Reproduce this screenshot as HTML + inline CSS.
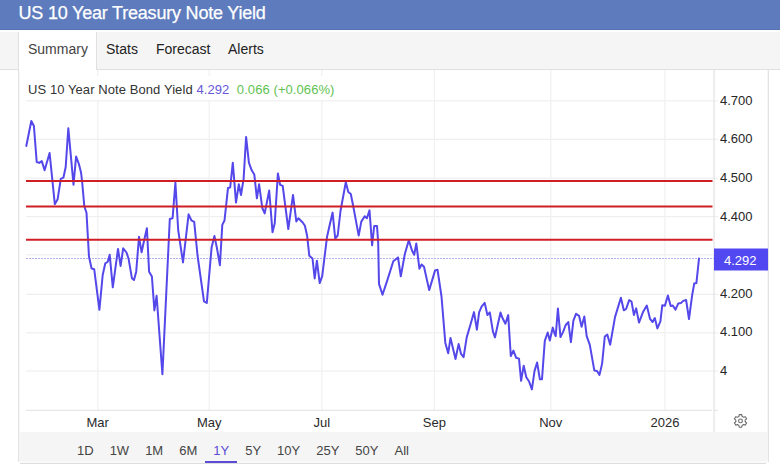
<!DOCTYPE html>
<html><head><meta charset="utf-8"><style>
*{box-sizing:border-box;margin:0;padding:0}
html,body{width:780px;height:464px;overflow:hidden;background:#fff;font-family:"Liberation Sans",sans-serif}
#hdr{position:absolute;left:0;top:0;width:780px;height:30px;background:#5d7bbd;color:#fff;font-size:18px;line-height:26px;padding-left:18.5px;letter-spacing:-0.2px;-webkit-text-stroke:0.25px #fff;box-shadow:inset 0 -1px 0 rgba(0,0,30,0.07)}
#tabs{position:absolute;left:0;top:32px;width:780px;height:38px;background:#f5f5f5;border-bottom:1px solid #e0e0e0}
#tabs .t{position:absolute;top:0;height:37px;font-size:14px;line-height:35px;color:#222}
#sum{position:absolute;left:18px;top:32px;width:79px;height:38px;background:#fff;border-left:1px solid #e0e0e0;border-right:1px solid #e0e0e0}
#panel{position:absolute;left:18px;top:70px;width:751px;height:392px;border:1px solid #e3e3e3;border-top:none;border-bottom:none;background:#fff;box-shadow:inset 1px 0 0 #f6f6f6,inset -1px 0 0 #f6f6f6}
#bline{position:absolute;left:20px;top:463px;width:746px;height:1px;background:#dedede}
#bl2{position:absolute;left:19px;top:461px;width:749px;height:2px;background:#f9f9f9}
#bbar{position:absolute;left:19px;top:432px;width:749px;height:29px;background:#f5f5f5}
#btns{position:absolute;left:69px;top:432px;height:31px;font-size:13px;line-height:38px;color:#444;white-space:nowrap}
#btns .b{display:inline-block;padding:0 8px;height:31px;position:relative;vertical-align:top}
#btns .act{color:#5a4cd4}
#btns .act:after{content:"";position:absolute;left:0;right:0;bottom:0;height:2px;background:#5a4cd4}
svg{position:absolute;left:0;top:0}
</style></head><body>
<div id="hdr">US 10 Year Treasury Note Yield</div>
<div id="tabs">
<span class="t" style="left:106px">Stats</span>
<span class="t" style="left:156px">Forecast</span>
<span class="t" style="left:228px">Alerts</span>
</div>
<div id="sum"><span style="position:absolute;left:9px;top:0;font-size:14px;line-height:35px;color:#444">Summary</span></div>
<div id="panel"></div>
<div id="bbar"></div><div id="bl2"></div><div id="bline"></div>
<div id="btns"><span class="b">1D</span><span class="b">1W</span><span class="b">1M</span><span class="b">6M</span><span class="b act">1Y</span><span class="b">5Y</span><span class="b">10Y</span><span class="b">25Y</span><span class="b">50Y</span><span class="b">All</span></div>
<svg width="780" height="464" viewBox="0 0 780 464" font-family="Liberation Sans, sans-serif">
<g stroke="#ececec" stroke-width="1"><line x1="26" y1="100.9" x2="718" y2="100.9" /><line x1="26" y1="139.3" x2="718" y2="139.3" /><line x1="26" y1="178.2" x2="718" y2="178.2" /><line x1="26" y1="216.7" x2="718" y2="216.7" /><line x1="26" y1="254.9" x2="718" y2="254.9" /><line x1="26" y1="294.3" x2="718" y2="294.3" /><line x1="26" y1="332.9" x2="718" y2="332.9" /><line x1="26" y1="371.0" x2="718" y2="371.0" /></g><g stroke="#f1f1f1" stroke-width="1.2"><line x1="97.8" y1="70" x2="97.8" y2="410" /><line x1="209.2" y1="70" x2="209.2" y2="410" /><line x1="321.8" y1="70" x2="321.8" y2="410" /><line x1="434.4" y1="70" x2="434.4" y2="410" /><line x1="550.8" y1="70" x2="550.8" y2="410" /><line x1="664.9" y1="70" x2="664.9" y2="410" /></g>
<line x1="714" y1="70" x2="714" y2="432" stroke="#dcdcdc" stroke-width="1"/>
<g stroke="#e0e0e0" stroke-width="1"><line x1="26" y1="410.3" x2="712" y2="410.3"/><line x1="714" y1="410.3" x2="718" y2="410.3"/></g>
<line x1="26" y1="258.5" x2="714" y2="258.5" stroke="#b2b2f0" stroke-width="1" stroke-dasharray="2 1"/>
<path d="M26.3,146.0 L31.3,121.0 L33.9,126.0 L36.7,162.0 L39.2,162.9 L41.8,161.1 L44.6,170.2 L49.6,153.0 L54.8,204.2 L57.6,199.3 L60.8,178.8 L63.4,177.7 L65.7,167.0 L68.3,128.2 L73.5,184.7 L76.1,156.6 L78.9,164.0 L81.1,172.8 L82.2,182.5 L84.3,206.2 L86.5,212.7 L89.0,256.8 L91.6,268.5 L94.2,269.2 L99.4,309.8 L102.7,275.0 L105.3,263.3 L107.6,262.0 L109.7,254.8 L112.8,287.3 L118.0,249.0 L120.6,265.9 L123.2,248.3 L126.5,252.5 L128.6,258.8 L131.9,278.2 L134.0,280.0 L136.2,271.7 L139.0,236.8 L141.6,252.3 L144.1,240.5 L146.9,228.2 L149.1,271.7 L151.9,276.5 L154.4,310.4 L156.6,295.8 L162.4,374.3 L169.8,219.0 L172.6,218.2 L175.4,182.6 L178.2,230.2 L183.0,262.4 L188.6,214.3 L191.4,220.4 L194.2,221.8 L197.6,256.0 L204.0,301.4 L206.8,303.0 L211.6,247.4 L214.4,236.0 L216.8,247.4 L219.9,265.2 L222.3,224.9 L224.5,220.5 L228.0,187.9 L230.2,187.5 L232.8,162.7 L236.0,202.6 L238.8,184.3 L241.0,195.0 L243.6,178.9 L246.1,136.9 L248.9,162.7 L251.7,170.3 L254.3,174.6 L256.9,198.3 L259.1,184.3 L262.3,208.0 L264.7,213.4 L269.2,190.5 L272.5,232.2 L274.7,223.6 L277.9,173.4 L280.1,184.8 L282.7,185.9 L288.3,229.0 L293.0,194.9 L296.3,221.4 L298.4,218.2 L302.7,222.5 L304.9,225.7 L307.2,236.3 L309.3,255.7 L312.5,258.5 L314.7,278.4 L316.9,260.7 L319.7,283.1 L322.2,276.2 L327.0,237.0 L329.8,224.5 L332.6,212.6 L335.2,238.5 L337.7,235.5 L340.5,211.0 L345.8,182.3 L348.3,192.0 L350.8,194.0 L353.3,206.5 L358.7,235.6 L361.3,221.6 L364.7,216.2 L366.9,218.3 L369.5,210.4 L372.1,245.3 L374.2,226.0 L377.0,225.9 L378.2,242.9 L379.0,283.9 L382.5,294.7 L387.2,280.6 L393.3,261.3 L398.0,257.4 L400.8,276.3 L404.9,253.7 L408.8,240.3 L412.0,250.5 L414.2,254.8 L416.3,243.4 L419.4,268.7 L421.6,264.5 L424.0,266.8 L429.2,290.1 L435.1,270.4 L437.5,269.7 L441.5,296.5 L445.3,342.7 L448.2,353.3 L450.5,337.9 L455.5,359.0 L458.6,344.1 L461.0,353.8 L463.6,357.2 L466.7,337.4 L470.5,324.5 L474.0,312.1 L476.9,329.7 L479.1,312.4 L481.7,306.4 L484.7,302.9 L487.4,315.0 L489.8,312.4 L492.9,331.4 L495.0,337.4 L497.8,324.5 L500.5,312.5 L502.6,318.3 L505.4,323.7 L508.2,315.1 L510.8,356.0 L513.4,350.6 L516.2,357.8 L519.0,358.6 L521.1,380.8 L523.7,365.7 L526.3,377.2 L529.1,381.5 L531.9,389.4 L534.5,371.1 L537.1,362.5 L539.9,379.3 L542.0,379.3 L544.8,340.9 L547.7,332.5 L549.8,340.5 L552.8,327.6 L554.5,333.6 L555.7,336.2 L557.9,308.6 L560.5,337.1 L563.1,331.9 L565.7,325.0 L568.3,322.1 L570.9,342.2 L573.4,320.7 L576.0,313.8 L579.1,315.9 L581.6,326.7 L584.3,316.4 L586.7,336.2 L589.8,344.8 L594.3,370.4 L597.0,371.0 L599.5,374.9 L602.1,363.6 L604.8,336.5 L607.3,334.6 L610.2,344.7 L615.0,317.1 L620.9,297.8 L623.8,310.3 L626.1,309.0 L629.2,300.1 L631.5,301.5 L633.9,314.9 L636.2,308.4 L639.0,322.6 L642.9,312.3 L646.8,305.6 L650.0,318.8 L652.6,322.0 L654.8,318.1 L657.4,328.4 L660.4,321.3 L662.3,305.2 L664.9,305.8 L667.9,295.5 L670.7,306.1 L672.8,305.5 L675.5,309.6 L678.3,303.4 L680.9,303.1 L683.2,300.9 L686.1,300.0 L689.0,319.0 L692.1,295.7 L694.2,283.6 L696.4,283.1 L699.0,258.5" fill="none" stroke="#5448ea" stroke-width="2" stroke-linejoin="round" stroke-linecap="round"/>
<g stroke="#d01e26" stroke-width="2">
<line x1="26" y1="181" x2="712.5" y2="181"/>
<line x1="26" y1="206.6" x2="712.5" y2="206.6"/>
<line x1="26" y1="239.8" x2="712.5" y2="239.8"/>
</g>
<g font-size="13" fill="#262626"><text x="720" y="104.8">4.700</text><text x="720" y="143.4">4.600</text><text x="720" y="181.9">4.500</text><text x="720" y="220.5">4.400</text><text x="720" y="297.6">4.200</text><text x="720" y="336.2">4.100</text><text x="720" y="374.8">4</text></g>
<rect x="714" y="248.5" width="54" height="22" fill="#5248f2"/>
<text x="724" y="265.3" font-size="13" fill="#fff">4.292</text>
<g font-size="13" fill="#2a2a2a"><text x="97.7" y="426.6" text-anchor="middle">Mar</text><text x="209.2" y="426.6" text-anchor="middle">May</text><text x="321.8" y="426.6" text-anchor="middle">Jul</text><text x="434.4" y="426.6" text-anchor="middle">Sep</text><text x="550.8" y="426.6" text-anchor="middle">Nov</text><text x="664.9" y="426.6" text-anchor="middle">2026</text></g>
<rect x="22" y="76" width="318" height="24" fill="#fff"/>
<text x="28" y="93.5" font-size="13" letter-spacing="0.08" fill="#333333">US 10 Year Note Bond Yield <tspan fill="#6658d8">4.292</tspan><tspan fill="#62c250" dx="7.5">0.066 (+0.066%)</tspan></text>
<g transform="translate(740.5,420.9)" fill="none" stroke="#6a6a6a" stroke-width="1.1">
<path d="M-2.35,-4.07 L-1.68,-4.39 L-1.22,-6.28 L1.22,-6.28 L1.68,-4.39 L2.35,-4.07 L2.96,-3.65 L4.83,-4.20 L6.05,-2.08 L4.64,-0.74 L4.70,0.00 L4.64,0.74 L6.05,2.08 L4.83,4.20 L2.96,3.65 L2.35,4.07 L1.68,4.39 L1.22,6.28 L-1.22,6.28 L-1.68,4.39 L-2.35,4.07 L-2.96,3.65 L-4.83,4.20 L-6.05,2.08 L-4.64,0.74 L-4.70,0.00 L-4.64,-0.74 L-6.05,-2.08 L-4.83,-4.20 L-2.96,-3.65Z" stroke-linejoin="round"/>
<circle r="1.9"/>
</g>
</svg>
</body></html>
